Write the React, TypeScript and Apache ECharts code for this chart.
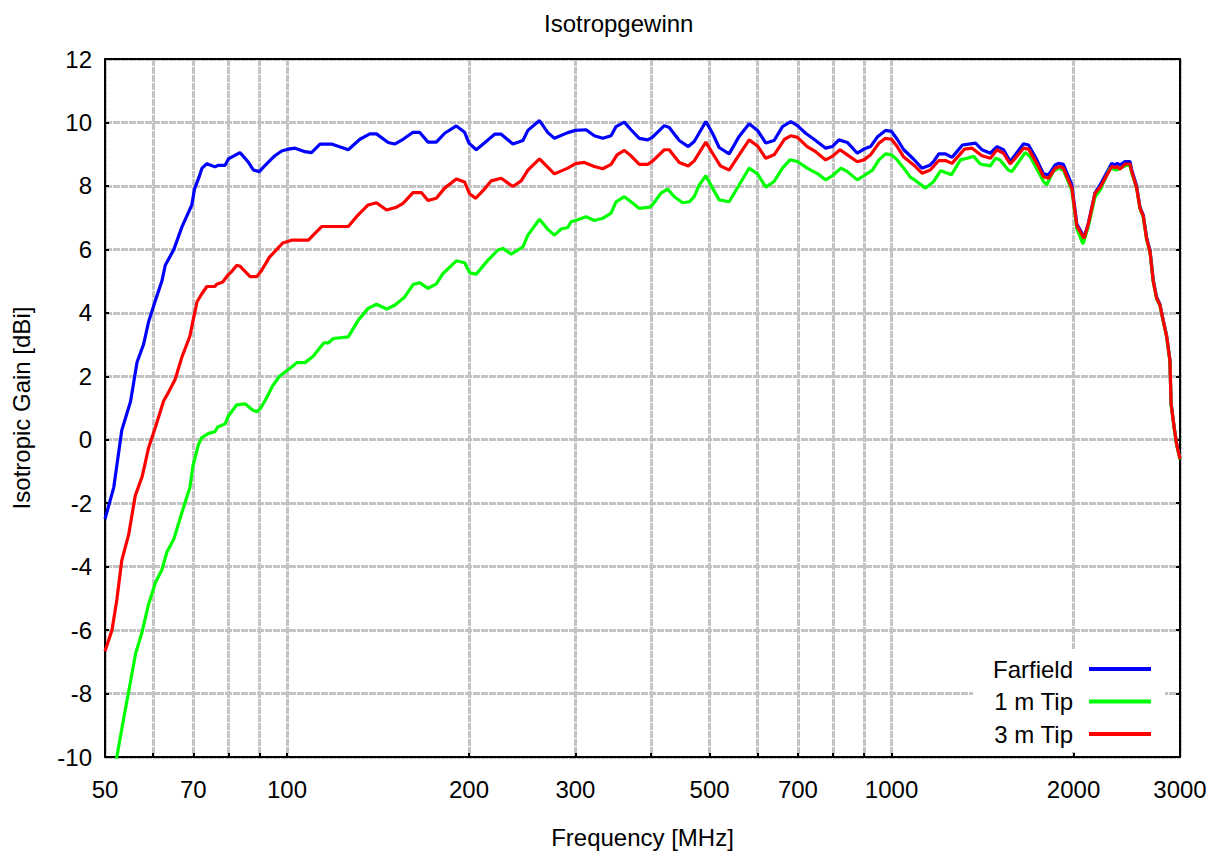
import React, { useEffect, useRef } from "react";
import * as echarts from "echarts";

const titleText = "Isotropgewinn";
const xName = "Frequency [MHz]";
const yName = "Isotropic Gain [dBi]";
const seriesNames = ["Farfield", "1 m Tip", "3 m Tip"];
const seriesColors = ["#0000ff", "#00ff00", "#ff0000"];

const xLabelValues = [50, 70, 100, 200, 300, 500, 700, 1000, 2000, 3000];
const xTickValues = [50, 60, 70, 80, 90, 100, 200, 300, 400, 500, 600, 700, 800, 900, 1000, 2000, 3000];

const farfield: number[][] = [
  [50, -2.5], [51.7, -1.5], [53.3, 0.3], [55.1, 1.2], [56.5, 2.45], [57.9, 3.0], [59, 3.7], [60.6, 4.4],
  [62.1, 5.0], [62.9, 5.5], [65, 6.0], [67, 6.7], [69.6, 7.4], [70.3, 7.9], [71.6, 8.3], [72.3, 8.55],
  [73.7, 8.7], [76, 8.6], [77, 8.65], [79, 8.65], [80, 8.85], [83.6, 9.05], [84.5, 8.95], [86.3, 8.75],
  [88, 8.5], [90, 8.45], [91.5, 8.6], [94.3, 8.85], [95.5, 8.95], [98, 9.1], [100, 9.15], [103.1, 9.19],
  [107.1, 9.08], [109.8, 9.05], [113.4, 9.32], [118.5, 9.32], [126.3, 9.14], [132, 9.47], [137.1, 9.64],
  [140.6, 9.64], [147, 9.37], [150.7, 9.32], [155.6, 9.47], [161.6, 9.69], [165.7, 9.69], [171.1, 9.38],
  [176.6, 9.38], [182.3, 9.66], [190.6, 9.89], [196.7, 9.69], [200, 9.35], [205.6, 9.14], [215, 9.45],
  [220.5, 9.63], [226.1, 9.63], [236.4, 9.32], [245.6, 9.43], [250.3, 9.75], [261.6, 10.06], [270.1, 9.68],
  [276.9, 9.5], [291.4, 9.68], [300, 9.75], [312.4, 9.77], [322.4, 9.58], [332.9, 9.5], [343.6, 9.58],
  [350.2, 9.87], [361.4, 10.01], [370.7, 9.77], [382.6, 9.5], [395, 9.45], [402, 9.53], [420.8, 9.9],
  [428.8, 9.84], [445.5, 9.43], [461, 9.24], [471.6, 9.4], [493, 10.03], [505.7, 9.66], [518.6, 9.21],
  [538.7, 9.01], [559.6, 9.56], [581.4, 9.96], [600.2, 9.75], [619.5, 9.35], [639.4, 9.43], [660.1, 9.87],
  [681.3, 10.03], [698.8, 9.9], [721, 9.66], [749, 9.43], [778, 9.19], [798, 9.24], [818.3, 9.45],
  [845, 9.37], [877.7, 9.03], [900, 9.16], [923.1, 9.24], [947, 9.54], [977.3, 9.75], [1000, 9.72],
  [1021.7, 9.47], [1047.7, 9.14], [1088, 8.84], [1123, 8.56], [1159, 8.66], [1174, 8.77], [1197, 9.01],
  [1228, 9.01], [1259, 8.9], [1310, 9.29], [1377, 9.35], [1411, 9.14], [1457, 9.03], [1494, 9.24],
  [1532, 9.14], [1571, 8.77], [1602, 8.98], [1653, 9.33], [1685, 9.29], [1739, 8.82], [1784, 8.38],
  [1818, 8.35], [1865, 8.66], [1888, 8.71], [1924, 8.68], [1987, 8.03], [2025, 6.8], [2051, 6.61],
  [2082, 6.38], [2116, 6.82], [2171, 7.79], [2213, 8.03], [2313, 8.71], [2342, 8.66], [2362, 8.71],
  [2387, 8.66], [2433, 8.77], [2480, 8.77], [2496, 8.5], [2542, 8.02], [2576, 7.33], [2609, 7.07],
  [2642, 6.37], [2676, 5.97], [2710, 5.02], [2745, 4.49], [2779, 4.27], [2814, 3.77], [2851, 3.28],
  [2887, 2.51], [2900, 1.15], [2935, 0.38], [2962, -0.13], [3000, -0.58],
];

const tip1m: number[][] = [
  [50, -12.3], [52.3, -10], [53.7, -8.77], [54.7, -7.95], [56.2, -6.73], [57.6, -6.05], [59, -5.2],
  [60.6, -4.5], [62.1, -4.1], [63.3, -3.54], [65, -3.13], [67, -2.3], [69.1, -1.5], [69.9, -0.82],
  [71.4, -0.14], [72.3, 0.07], [74.2, 0.2], [76, 0.25], [76.8, 0.4], [79, 0.5], [80, 0.75], [82.6, 1.1],
  [85.3, 1.13], [87.5, 0.95], [89.1, 0.88], [90.5, 1.0], [92.4, 1.3], [94.7, 1.7], [97.2, 2.0], [100, 2.18],
  [101.8, 2.29], [103.8, 2.43], [107.1, 2.43], [110.5, 2.63], [115, 3.05], [117, 3.05], [119.3, 3.19],
  [126.3, 3.24], [131.2, 3.77], [136.2, 4.14], [140.6, 4.27], [146.1, 4.12], [150.7, 4.24], [156.6, 4.5],
  [161.6, 4.89], [165.7, 4.95], [171.1, 4.77], [176.6, 4.91], [181.2, 5.24], [190.6, 5.64], [196.7, 5.58],
  [200.6, 5.26], [205.6, 5.22], [215, 5.66], [223.3, 5.98], [227.6, 6.03], [234.9, 5.85], [245.6, 6.08],
  [250.3, 6.45], [261.6, 6.95], [270.1, 6.63], [276.9, 6.45], [284.1, 6.64], [291.4, 6.69], [295.1, 6.87],
  [300, 6.91], [312.4, 7.03], [322.4, 6.91], [332.9, 6.98], [343.6, 7.14], [350.2, 7.5], [361.4, 7.66],
  [370.7, 7.5], [382.6, 7.29], [397.5, 7.33], [402, 7.4], [415.5, 7.77], [426.2, 7.9], [437.1, 7.66],
  [451.3, 7.47], [463, 7.5], [471.6, 7.66], [480.7, 8.03], [493, 8.32], [505.7, 7.93], [518.6, 7.56],
  [538.7, 7.5], [559.6, 8.03], [581.4, 8.56], [600.2, 8.38], [619.5, 7.96], [639.4, 8.14], [660.1, 8.56],
  [679, 8.82], [698.8, 8.77], [725, 8.56], [755, 8.38], [778, 8.19], [798, 8.32], [825, 8.56], [845, 8.45],
  [877.7, 8.19], [900, 8.32], [930, 8.5], [953, 8.82], [977.3, 9.01], [1000, 8.98], [1021.7, 8.82],
  [1047.7, 8.56], [1074.7, 8.27], [1088, 8.21], [1138, 7.93], [1174, 8.14], [1206, 8.48], [1256, 8.35],
  [1300, 8.82], [1333, 8.87], [1367, 8.93], [1402, 8.69], [1457, 8.63], [1485, 8.87], [1512, 8.82],
  [1560, 8.5], [1581, 8.45], [1621, 8.74], [1663, 9.05], [1695, 8.93], [1739, 8.53], [1784, 8.14],
  [1806, 8.03], [1850, 8.45], [1888, 8.56], [1924, 8.5], [1987, 7.87], [2025, 6.66], [2073, 6.17],
  [2116, 6.72], [2171, 7.66], [2213, 7.87], [2298, 8.56], [2355, 8.5], [2449, 8.66], [2480, 8.63],
  [2496, 8.4], [2542, 7.95], [2576, 7.28], [2609, 7.0], [2642, 6.3], [2676, 5.92], [2710, 4.97],
  [2745, 4.44], [2779, 4.23], [2814, 3.73], [2851, 3.24], [2887, 2.47], [2900, 1.11], [2935, 0.34],
  [2962, -0.17], [3000, -0.62],
];

const tip3m: number[][] = [
  [50, -6.67], [51.35, -6.0], [52.3, -5.05], [53.3, -3.8], [54.7, -3.0], [56.1, -1.77], [57.6, -1.16],
  [59, -0.27], [60.6, 0.4], [62.5, 1.22], [63.7, 1.5], [65.3, 1.9], [67, 2.6], [69.1, 3.27], [70, 3.8],
  [71, 4.35], [72.3, 4.6], [73.7, 4.83], [76, 4.83], [76.5, 4.9], [78.3, 4.97], [79.7, 5.17], [81, 5.3],
  [82.6, 5.5], [83.6, 5.47], [85.3, 5.3], [86.9, 5.14], [89.1, 5.14], [90.5, 5.3], [92.2, 5.55],
  [93.4, 5.74], [96.2, 6.0], [98.4, 6.2], [101.8, 6.29], [108.5, 6.29], [110.5, 6.45], [114.1, 6.72],
  [126.3, 6.72], [130.3, 7.03], [136.2, 7.4], [140.6, 7.47], [146.1, 7.24], [151.7, 7.33], [155.6, 7.45],
  [161.6, 7.79], [166.8, 7.79], [171.1, 7.54], [176.6, 7.61], [182.3, 7.93], [190.6, 8.22], [196.7, 8.12],
  [200.5, 7.75], [205, 7.61], [211, 7.85], [217.7, 8.16], [226.1, 8.24], [236.4, 7.98], [244, 8.16],
  [250.3, 8.5], [261.6, 8.85], [276.9, 8.38], [291.4, 8.56], [300, 8.7], [310.4, 8.74], [322.4, 8.61],
  [332.9, 8.54], [343.6, 8.68], [351.5, 8.98], [361.4, 9.12], [370.7, 8.95], [382.6, 8.68], [395, 8.68],
  [402, 8.77], [420.8, 9.14], [428.8, 9.14], [445.5, 8.74], [461, 8.63], [471.6, 8.79], [493, 9.38],
  [505.7, 9.03], [521, 8.63], [538.7, 8.5], [559.6, 8.98], [581.4, 9.45], [600.2, 9.26], [619.5, 8.87],
  [639.4, 8.98], [665, 9.47], [681.3, 9.58], [698.8, 9.53], [725, 9.24], [749, 9.08], [778, 8.82],
  [798, 8.93], [822, 9.14], [845, 8.98], [877.7, 8.76], [900, 8.82], [923.1, 8.98], [953, 9.35],
  [977.3, 9.5], [1000, 9.47], [1021.7, 9.24], [1047.7, 8.91], [1088, 8.66], [1123, 8.4], [1159, 8.5],
  [1197, 8.8], [1228, 8.8], [1259, 8.71], [1320, 9.16], [1359, 9.19], [1411, 8.95], [1457, 8.87],
  [1494, 9.14], [1532, 9.03], [1571, 8.69], [1602, 8.87], [1653, 9.19], [1685, 9.16], [1739, 8.71],
  [1784, 8.29], [1818, 8.24], [1865, 8.56], [1900, 8.61], [1924, 8.56], [1987, 7.93], [2025, 6.74],
  [2051, 6.56], [2082, 6.35], [2116, 6.8], [2171, 7.77], [2213, 7.96], [2313, 8.61], [2342, 8.58],
  [2362, 8.61], [2387, 8.53], [2433, 8.69], [2480, 8.69], [2496, 8.45], [2542, 7.96], [2576, 7.3],
  [2609, 7.03], [2642, 6.33], [2676, 5.93], [2710, 4.98], [2745, 4.45], [2779, 4.25], [2814, 3.75],
  [2851, 3.26], [2887, 2.49], [2900, 1.13], [2935, 0.36], [2962, -0.15], [3000, -0.6],
];

const seriesData = [farfield, tip1m, tip3m];

const FONT = "'Liberation Sans', Arial, Helvetica, sans-serif";

export default function App() {
  const ref = useRef<HTMLDivElement>(null);

  useEffect(() => {
    if (!ref.current) return;
    const chart = echarts.init(ref.current, undefined, { renderer: "svg" });
    const gridLine = { show: true, lineStyle: { color: "#c4c4c4", width: 3, type: [7, 1] as any } };
    const xBase = {
      type: "log" as const,
      logBase: 10,
      min: 50,
      max: 3000,
      axisLine: { show: true, onZero: false, lineStyle: { color: "#000", width: 2 } },
    };
    const option: any = {
      animation: false,
      backgroundColor: "#fff",
      textStyle: { fontFamily: FONT },
      title: {
        text: titleText,
        left: 539,
        top: 6,
        textStyle: { fontFamily: FONT, fontSize: 24, fontWeight: "normal", color: "#000" },
      },
      grid: { left: 105, right: 37, top: 59, bottom: 98, containLabel: false },
      legend: {
        orient: "vertical",
        right: 52,
        bottom: 103,
        align: "right",
        icon: "rect",
        itemWidth: 62,
        itemHeight: 4,
        itemGap: 8.5,
        selectedMode: false,
        backgroundColor: "#fff",
        padding: [8, 14, 6, 20],
        textStyle: { fontFamily: FONT, fontSize: 24, color: "#000", lineHeight: 21, padding: [0, 11, 0, 0] },
        data: seriesNames,
      },
      xAxis: [
        {
          ...xBase,
          position: "bottom",
          name: xName,
          nameLocation: "middle",
          nameGap: 68,
          nameTextStyle: { fontFamily: FONT, fontSize: 24, color: "#000" },
          axisTick: { show: true, inside: true, length: 4, customValues: xTickValues, lineStyle: { color: "#000", width: 2 } },
          axisLabel: {
            show: true,
            customValues: xLabelValues,
            margin: 20,
            fontFamily: FONT,
            fontSize: 24,
            color: "#000",
            formatter: (v: number) => String(Math.round(v)),
          },
          splitLine: gridLine,
          minorTick: { show: false },
          minorSplitLine: { show: false },
        },
        {
          ...xBase,
          position: "top",
          axisTick: { show: false },
          axisLabel: { show: false },
          splitLine: { show: false },
        },
      ],
      yAxis: [
        {
          type: "value",
          min: -10,
          max: 12,
          interval: 2,
          position: "left",
          name: yName,
          nameLocation: "middle",
          nameGap: 72,
          nameTextStyle: { fontFamily: FONT, fontSize: 24, color: "#000" },
          axisLine: { show: true, onZero: false, lineStyle: { color: "#000", width: 2 } },
          axisTick: { show: true, inside: true, length: 4, lineStyle: { color: "#000", width: 2 } },
          axisLabel: { margin: 13, fontFamily: FONT, fontSize: 24, color: "#000" },
          splitLine: gridLine,
        },
        {
          type: "value",
          min: -10,
          max: 12,
          interval: 2,
          position: "right",
          axisLine: { show: true, onZero: false, lineStyle: { color: "#000", width: 2 } },
          axisTick: { show: true, inside: true, length: 4, lineStyle: { color: "#000", width: 2 } },
          axisLabel: { show: false },
          splitLine: { show: false },
        },
      ],
      series: seriesNames.map((name, i) => ({
        name,
        type: "line",
        xAxisIndex: 0,
        yAxisIndex: 0,
        data: seriesData[i],
        showSymbol: false,
        symbol: "none",
        clip: true,
        color: seriesColors[i],
        lineStyle: { color: seriesColors[i], width: 3.2 },
        emphasis: { disabled: true },
        z: 3 + i,
      })),
    };
    chart.setOption(option);
    return () => chart.dispose();
  }, []);

  return (
    <div
      ref={ref}
      style={{ position: "absolute", left: 0, top: 0, width: 1217, height: 855, background: "#fff" }}
    />
  );
}
